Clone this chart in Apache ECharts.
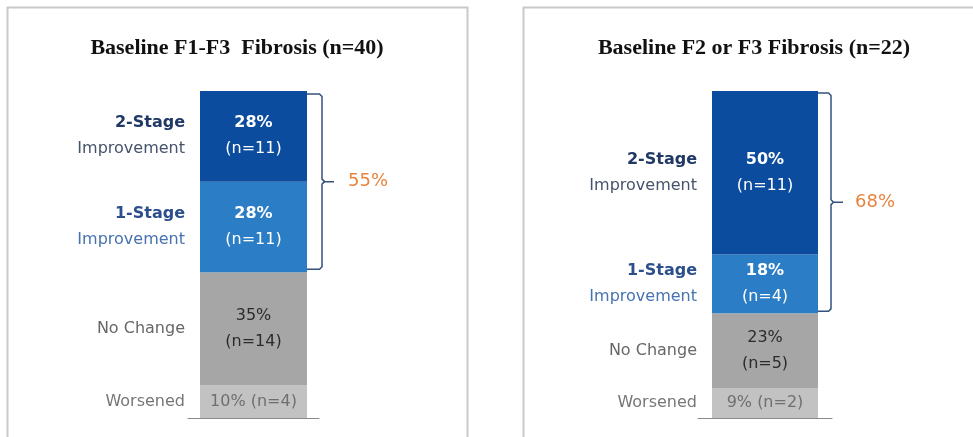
<!DOCTYPE html>
<html>
<head>
<meta charset="utf-8">
<script src="https://cdn.jsdelivr.net/npm/echarts@6/dist/echarts.min.js"></script>
<style>
  html, body { margin: 0; padding: 0; background: #ffffff; }
  #chart { width: 973px; height: 437px; }
</style>
</head>
<body>
<div id="chart"></div>
<script>
// Outcome categories, bottom of the stack first
const outcomes = ['Worsened', 'No Change', '1-Stage Improvement', '2-Stage Improvement'];
const panelTitles = ['Baseline F1-F3  Fibrosis (n=40)', 'Baseline F2 or F3 Fibrosis (n=22)'];
const pctF1F3 = [10, 35, 28, 28];
const countF1F3 = [4, 14, 11, 11];
const pctF2F3 = [9, 23, 18, 50];
const countF2F3 = [2, 5, 4, 11];
const improvedPct = [55, 68];

const panelData = [
  { pct: pctF1F3, n: countF1F3 },
  { pct: pctF2F3, n: countF2F3 }
];

// Layout of the two panels
const panels = [
  { gridLeft: 188, gridWidth: 131, barWidth: 107, titleX: 237, frameX: 7.5,   braceGap: 15, braceInset: 3, labelGap: 26 },
  { gridLeft: 698, gridWidth: 134, barWidth: 106, titleX: 754, frameX: 523.5, braceGap: 13, braceInset: 2, labelGap: 24 }
];
const gridTop = 91, gridBottom = 19;

const segColors = ['#c2c2c2', '#a6a6a6', '#2b7dc6', '#0c4c9f'];
const FONT = 'DejaVu Sans';

const valueRich = {
  pw: { color: '#ffffff', fontFamily: FONT, fontSize: 16, fontWeight: 'bold', lineHeight: 26 },
  nw: { color: '#ffffff', fontFamily: FONT, fontSize: 16, lineHeight: 26 },
  pg: { color: '#2b2b2b', fontFamily: FONT, fontSize: 16, lineHeight: 26 },
  ng: { color: '#2b2b2b', fontFamily: FONT, fontSize: 16, lineHeight: 26 },
  wl: { color: '#6f6f6f', fontFamily: FONT, fontSize: 16 }
};

const nameRich = {
  s2: { color: '#1f3864', fontFamily: FONT, fontSize: 16, fontWeight: 'bold', lineHeight: 26, align: 'right' },
  i2: { color: '#46536c', fontFamily: FONT, fontSize: 16, lineHeight: 26, align: 'right' },
  s1: { color: '#2c4f8c', fontFamily: FONT, fontSize: 16, fontWeight: 'bold', lineHeight: 26, align: 'right' },
  i1: { color: '#4672b0', fontFamily: FONT, fontSize: 16, lineHeight: 26, align: 'right' },
  nc: { color: '#676767', fontFamily: FONT, fontSize: 16, align: 'right' },
  wo: { color: '#767676', fontFamily: FONT, fontSize: 16, align: 'right' }
};

function valueText(k, pct, n) {
  if (k === 0) return '{wl|' + pct + '% (n=' + n + ')}';
  if (k === 1) return '{pg|' + pct + '%}\n{ng|(n=' + n + ')}';
  return '{pw|' + pct + '%}\n{nw|(n=' + n + ')}';
}

function nameText(k) {
  const name = outcomes[k];
  const parts = name.split(' ');
  if (k === 3) return '{s2|' + parts[0] + '}\n{i2|' + parts[1] + '}';
  if (k === 2) return '{s1|' + parts[0] + '}\n{i1|' + parts[1] + '}';
  if (k === 1) return '{nc|' + name + '}';
  return '{wo|' + name + '}';
}

const grids = [], xAxes = [], yAxes = [], series = [];
panels.forEach((p, i) => {
  const d = panelData[i];
  const total = d.pct.reduce((a, b) => a + b, 0);
  grids.push({ left: p.gridLeft, width: p.gridWidth, top: gridTop, bottom: gridBottom });
  xAxes.push({
    type: 'category', gridIndex: i, data: ['all'],
    axisLine: { show: true, lineStyle: { color: '#8a8a8a', width: 1 } },
    axisTick: { show: false }, axisLabel: { show: false }
  });
  yAxes.push({
    type: 'value', gridIndex: i, min: 0, max: total, show: false,
    splitLine: { show: false }
  });
  outcomes.forEach((name, k) => {
    // Coloured segment carrying its percentage and count
    series.push({
      type: 'bar', name: name, xAxisIndex: i, yAxisIndex: i, stack: 'seg' + i,
      barWidth: p.barWidth, barGap: '-100%', silent: true,
      itemStyle: { color: segColors[k] },
      label: {
        show: true, position: 'inside', rich: valueRich,
        formatter: valueText(k, d.pct[k], d.n[k])
      },
      data: [d.pct[k]]
    });
  });
  outcomes.forEach((name, k) => {
    // Transparent twin of the stack, used only to place the outcome name to the left
    series.push({
      type: 'bar', name: name + ' label', xAxisIndex: i, yAxisIndex: i, stack: 'name' + i,
      barWidth: p.barWidth, barGap: '-100%', silent: true,
      itemStyle: { color: 'rgba(0,0,0,0)' },
      label: {
        show: true, position: 'left', distance: 15, rich: nameRich,
        formatter: nameText(k)
      },
      data: [d.pct[k]]
    });
  });
});

const chart = echarts.init(document.getElementById('chart'), null, { renderer: 'canvas' });

const baseGraphics = [];
panels.forEach((p, i) => {
  baseGraphics.push({
    id: 'frame' + i, type: 'rect', z: -10,
    shape: { x: p.frameX, y: 7.5, width: 460, height: 440 },
    style: { fill: '#ffffff', stroke: '#c9c9c9', lineWidth: 2 }
  });
  baseGraphics.push({
    id: 'title' + i, type: 'text', x: p.titleX, y: 48,
    style: {
      text: panelTitles[i], fill: '#111111',
      font: 'bold 22px "Liberation Serif", "Times New Roman", serif',
      textAlign: 'center', textVerticalAlign: 'middle'
    }
  });
});

chart.setOption({
  animation: false,
  grid: grids,
  xAxis: xAxes,
  yAxis: yAxes,
  series: series,
  graphic: baseGraphics
});

// Brace spanning the two improvement segments, with the combined share beside it
const braceGraphics = [];
const braceStyle = { fill: null, stroke: '#34517f', lineWidth: 1.5 };
panels.forEach((p, i) => {
  const d = panelData[i];
  const improveBottom = d.pct[0] + d.pct[1];
  const improveTop = improveBottom + d.pct[2] + d.pct[3];
  const topPt = chart.convertToPixel({ gridIndex: i }, [0, improveTop]);
  const botPt = chart.convertToPixel({ gridIndex: i }, [0, improveBottom]);
  const barRight = topPt[0] + p.barWidth / 2;
  const vx = barRight + p.braceGap;
  const y0 = topPt[1] + p.braceInset;
  const y1 = botPt[1] - p.braceInset;
  const ym = (y0 + y1) / 2;
  const r = 2.5;
  braceGraphics.push({
    id: 'braceUpper' + i, type: 'polyline',
    shape: { points: [[barRight, y0], [vx - r, y0], [vx, y0 + r], [vx, ym - r], [vx + r, ym], [vx + 12, ym]] },
    style: braceStyle
  });
  braceGraphics.push({
    id: 'braceLower' + i, type: 'polyline',
    shape: { points: [[vx + r, ym], [vx, ym + r], [vx, y1 - r], [vx - r, y1], [barRight, y1]] },
    style: braceStyle
  });
  braceGraphics.push({
    id: 'braceLabel' + i, type: 'text', x: vx + p.labelGap, y: ym,
    style: {
      text: improvedPct[i] + '%', fill: '#e8843f',
      font: '18px "DejaVu Sans", sans-serif',
      textAlign: 'left', textVerticalAlign: 'middle'
    }
  });
});

chart.setOption({ graphic: baseGraphics.concat(braceGraphics) });
</script>
</body>
</html>
